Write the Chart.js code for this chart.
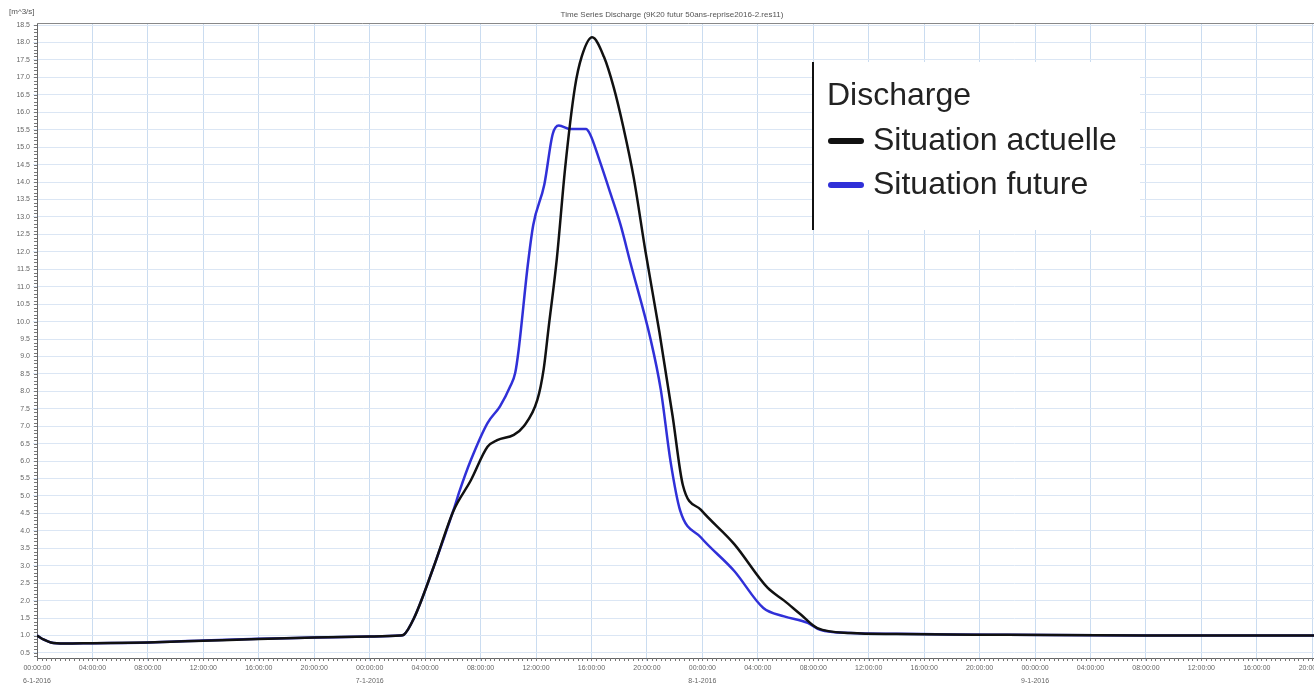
<!DOCTYPE html>
<html>
<head>
<meta charset="utf-8">
<script src="https://cdn.jsdelivr.net/npm/chart.js@4.4.1/dist/chart.umd.min.js"></script>
<style>
  html, body { margin: 0; padding: 0; background: #fff; overflow: hidden; }
  #wrap { position: relative; width: 1340px; height: 683px; }
</style>
</head>
<body>
<div id="wrap"><canvas id="chart"></canvas></div>
<script>
// hours since 00:00:00 6-1-2016, discharge in m^3/s
const hoursActuelle = [0, 0.5, 1, 2, 4, 8, 12, 16, 20, 24, 26.2, 26.45, 27.2, 28.6, 30.05, 31.3, 32.5, 33.2, 34.4, 35.1, 36.1, 36.55, 36.9, 37.5, 38.1, 38.8, 39.3, 40.05, 40.9, 41.6, 42.3, 43.05, 43.9, 44.9, 45.85, 46.6, 47.9, 50.3, 52.7, 53.9, 55.1, 56.3, 58.7, 62, 70, 80, 94];
const dischargeActuelle = [1.0, 0.88, 0.8, 0.77, 0.78, 0.8, 0.85, 0.9, 0.94, 0.97, 1.0, 1.02, 1.5, 2.95, 4.58, 5.45, 6.41, 6.6, 6.75, 6.99, 7.76, 8.63, 9.8, 11.8, 14.4, 16.7, 17.6, 18.15, 17.59, 16.72, 15.57, 14.12, 12.0, 9.7, 7.3, 5.3, 4.6, 3.62, 2.37, 2.0, 1.6, 1.21, 1.07, 1.04, 1.02, 1.0, 1.0];

const hoursFuture = [0, 0.5, 1, 2, 4, 8, 12, 16, 20, 24, 26.2, 26.45, 27.2, 28.6, 30.05, 30.5, 31.3, 32.5, 33.4, 34.15, 34.5, 34.75, 35.4, 35.8, 36.6, 37.2, 37.64, 38.5, 39.6, 39.9, 40.6, 41.4, 42.1, 42.8, 44.26, 45.0, 45.7, 46.4, 47.9, 50.3, 52.4, 53.9, 55.6, 56.5, 58.7, 62, 66, 70, 80, 94];
const dischargeFuture = [1.0, 0.88, 0.8, 0.77, 0.78, 0.8, 0.86, 0.91, 0.94, 0.97, 1.0, 1.02, 1.5, 2.95, 4.6, 5.16, 6.03, 7.09, 7.57, 8.15, 8.53, 9.2, 11.6, 12.77, 13.93, 15.37, 15.62, 15.52, 15.52, 15.37, 14.6, 13.64, 12.77, 11.7, 9.5, 8.05, 6.0, 4.58, 3.81, 2.85, 1.79, 1.55, 1.36, 1.16, 1.07, 1.05, 1.03, 1.02, 1.0, 1.0];

const seriesNames = ['Situation actuelle', 'Situation future'];
const dayLabels = ['6-1-2016', '7-1-2016', '8-1-2016', '9-1-2016'];
const chartTitle = 'Time Series Discharge (9K20 futur 50ans-reprise2016-2.res11)';
const unitLabel = '[m^3/s]';
const legendTitle = 'Discharge';

const toPoints = (xs, ys) => xs.map((h, i) => ({ x: h, y: ys[i] }));
const pad = n => String(n).padStart(2, '0');

const overlay = {
  id: 'overlay',
  afterDraw(chart) {
    const { ctx, chartArea: a, scales: { x, y } } = chart;
    ctx.save();

    // title + unit
    ctx.fillStyle = '#555';
    ctx.font = '8px "Liberation Sans"';
    ctx.textBaseline = 'middle';
    ctx.textAlign = 'center';
    ctx.fillText(chartTitle, 672, 15);
    ctx.textAlign = 'left';
    ctx.fillText(unitLabel, 9, 12);

    // top frame line
    ctx.strokeStyle = '#888';
    ctx.lineWidth = 1;
    ctx.beginPath();
    ctx.moveTo(a.left, a.top + 0.5);
    ctx.lineTo(a.right, a.top + 0.5);
    ctx.stroke();

    // minor ticks
    ctx.strokeStyle = '#777';
    ctx.beginPath();
    for (let h = 0; h <= x.max; h += 1 / 3) {
      const px = Math.round(x.getPixelForValue(h)) + 0.5;
      ctx.moveTo(px, a.bottom);
      ctx.lineTo(px, a.bottom + 3);
    }
    for (let v = 0.4; v <= y.max; v += 0.1) {
      const py = Math.round(y.getPixelForValue(v)) + 0.5;
      ctx.moveTo(a.left, py);
      ctx.lineTo(a.left - 3, py);
    }
    ctx.stroke();

    // legend box
    const bx = 812, by = 62, bw = 328, bh = 168;
    ctx.fillStyle = '#fff';
    ctx.fillRect(bx, by, bw, bh);
    ctx.strokeStyle = '#111';
    ctx.lineWidth = 2;
    ctx.beginPath();
    ctx.moveTo(bx + 1, by);
    ctx.lineTo(bx + 1, by + bh);
    ctx.stroke();

    ctx.font = '32px "Liberation Sans"';
    ctx.fillStyle = '#222';
    ctx.textAlign = 'left';
    ctx.textBaseline = 'middle';
    ctx.fillText(legendTitle, 827, 96);
    chart.data.datasets.forEach((ds, i) => {
      const cy = 141 + i * 44;
      ctx.strokeStyle = ds.borderColor;
      ctx.lineWidth = 6;
      ctx.lineCap = 'round';
      ctx.beginPath();
      ctx.moveTo(831, cy);
      ctx.lineTo(861, cy);
      ctx.stroke();
      ctx.fillStyle = '#222';
      ctx.fillText(ds.label, 873, cy);
    });
    ctx.restore();
  }
};

new Chart(document.getElementById('chart'), {
  type: 'line',
  data: {
    datasets: [
      {
        label: seriesNames[0],
        data: toPoints(hoursActuelle, dischargeActuelle),
        borderColor: '#111111',
        borderWidth: 2.5,
        pointRadius: 0,
        cubicInterpolationMode: 'monotone'
      },
      {
        label: seriesNames[1],
        data: toPoints(hoursFuture, dischargeFuture),
        borderColor: '#3030d8',
        borderWidth: 2.5,
        pointRadius: 0,
        cubicInterpolationMode: 'monotone'
      }
    ]
  },
  options: {
    responsive: true,
    maintainAspectRatio: false,
    animation: false,
    layout: { padding: { top: 23, right: 0, left: 0, bottom: 0 } },
    plugins: {
      legend: { display: false },
      tooltip: { enabled: false }
    },
    scales: {
      x: {
        type: 'linear',
        min: 0,
        max: 94,
        afterFit: s => { s.height = 25; },
        border: { color: '#666', width: 1 },
        grid: { color: '#cadcf0', lineWidth: 1, tickLength: 3 },
        ticks: {
          stepSize: 4,
          includeBounds: false,
          autoSkip: false,
          maxRotation: 0,
          padding: 1,
          color: '#666',
          font: { family: 'Liberation Sans', size: 7, lineHeight: 1.8 },
          callback: v => {
            const h = v % 24;
            const lbl = pad(h) + ':00:00';
            return h === 0 ? [lbl, dayLabels[v / 24]] : lbl;
          }
        }
      },
      y: {
        min: 0.355,
        max: 18.56,
        afterFit: s => { s.width = 37; },
        border: { color: '#666', width: 1 },
        grid: { color: '#dbe6f4', lineWidth: 1, tickLength: 4 },
        ticks: {
          stepSize: 0.5,
          includeBounds: false,
          autoSkip: false,
          padding: 3,
          color: '#666',
          font: { family: 'Liberation Sans', size: 7 },
          callback: v => v.toFixed(1)
        }
      }
    }
  },
  plugins: [overlay]
});
</script>
</body>
</html>
